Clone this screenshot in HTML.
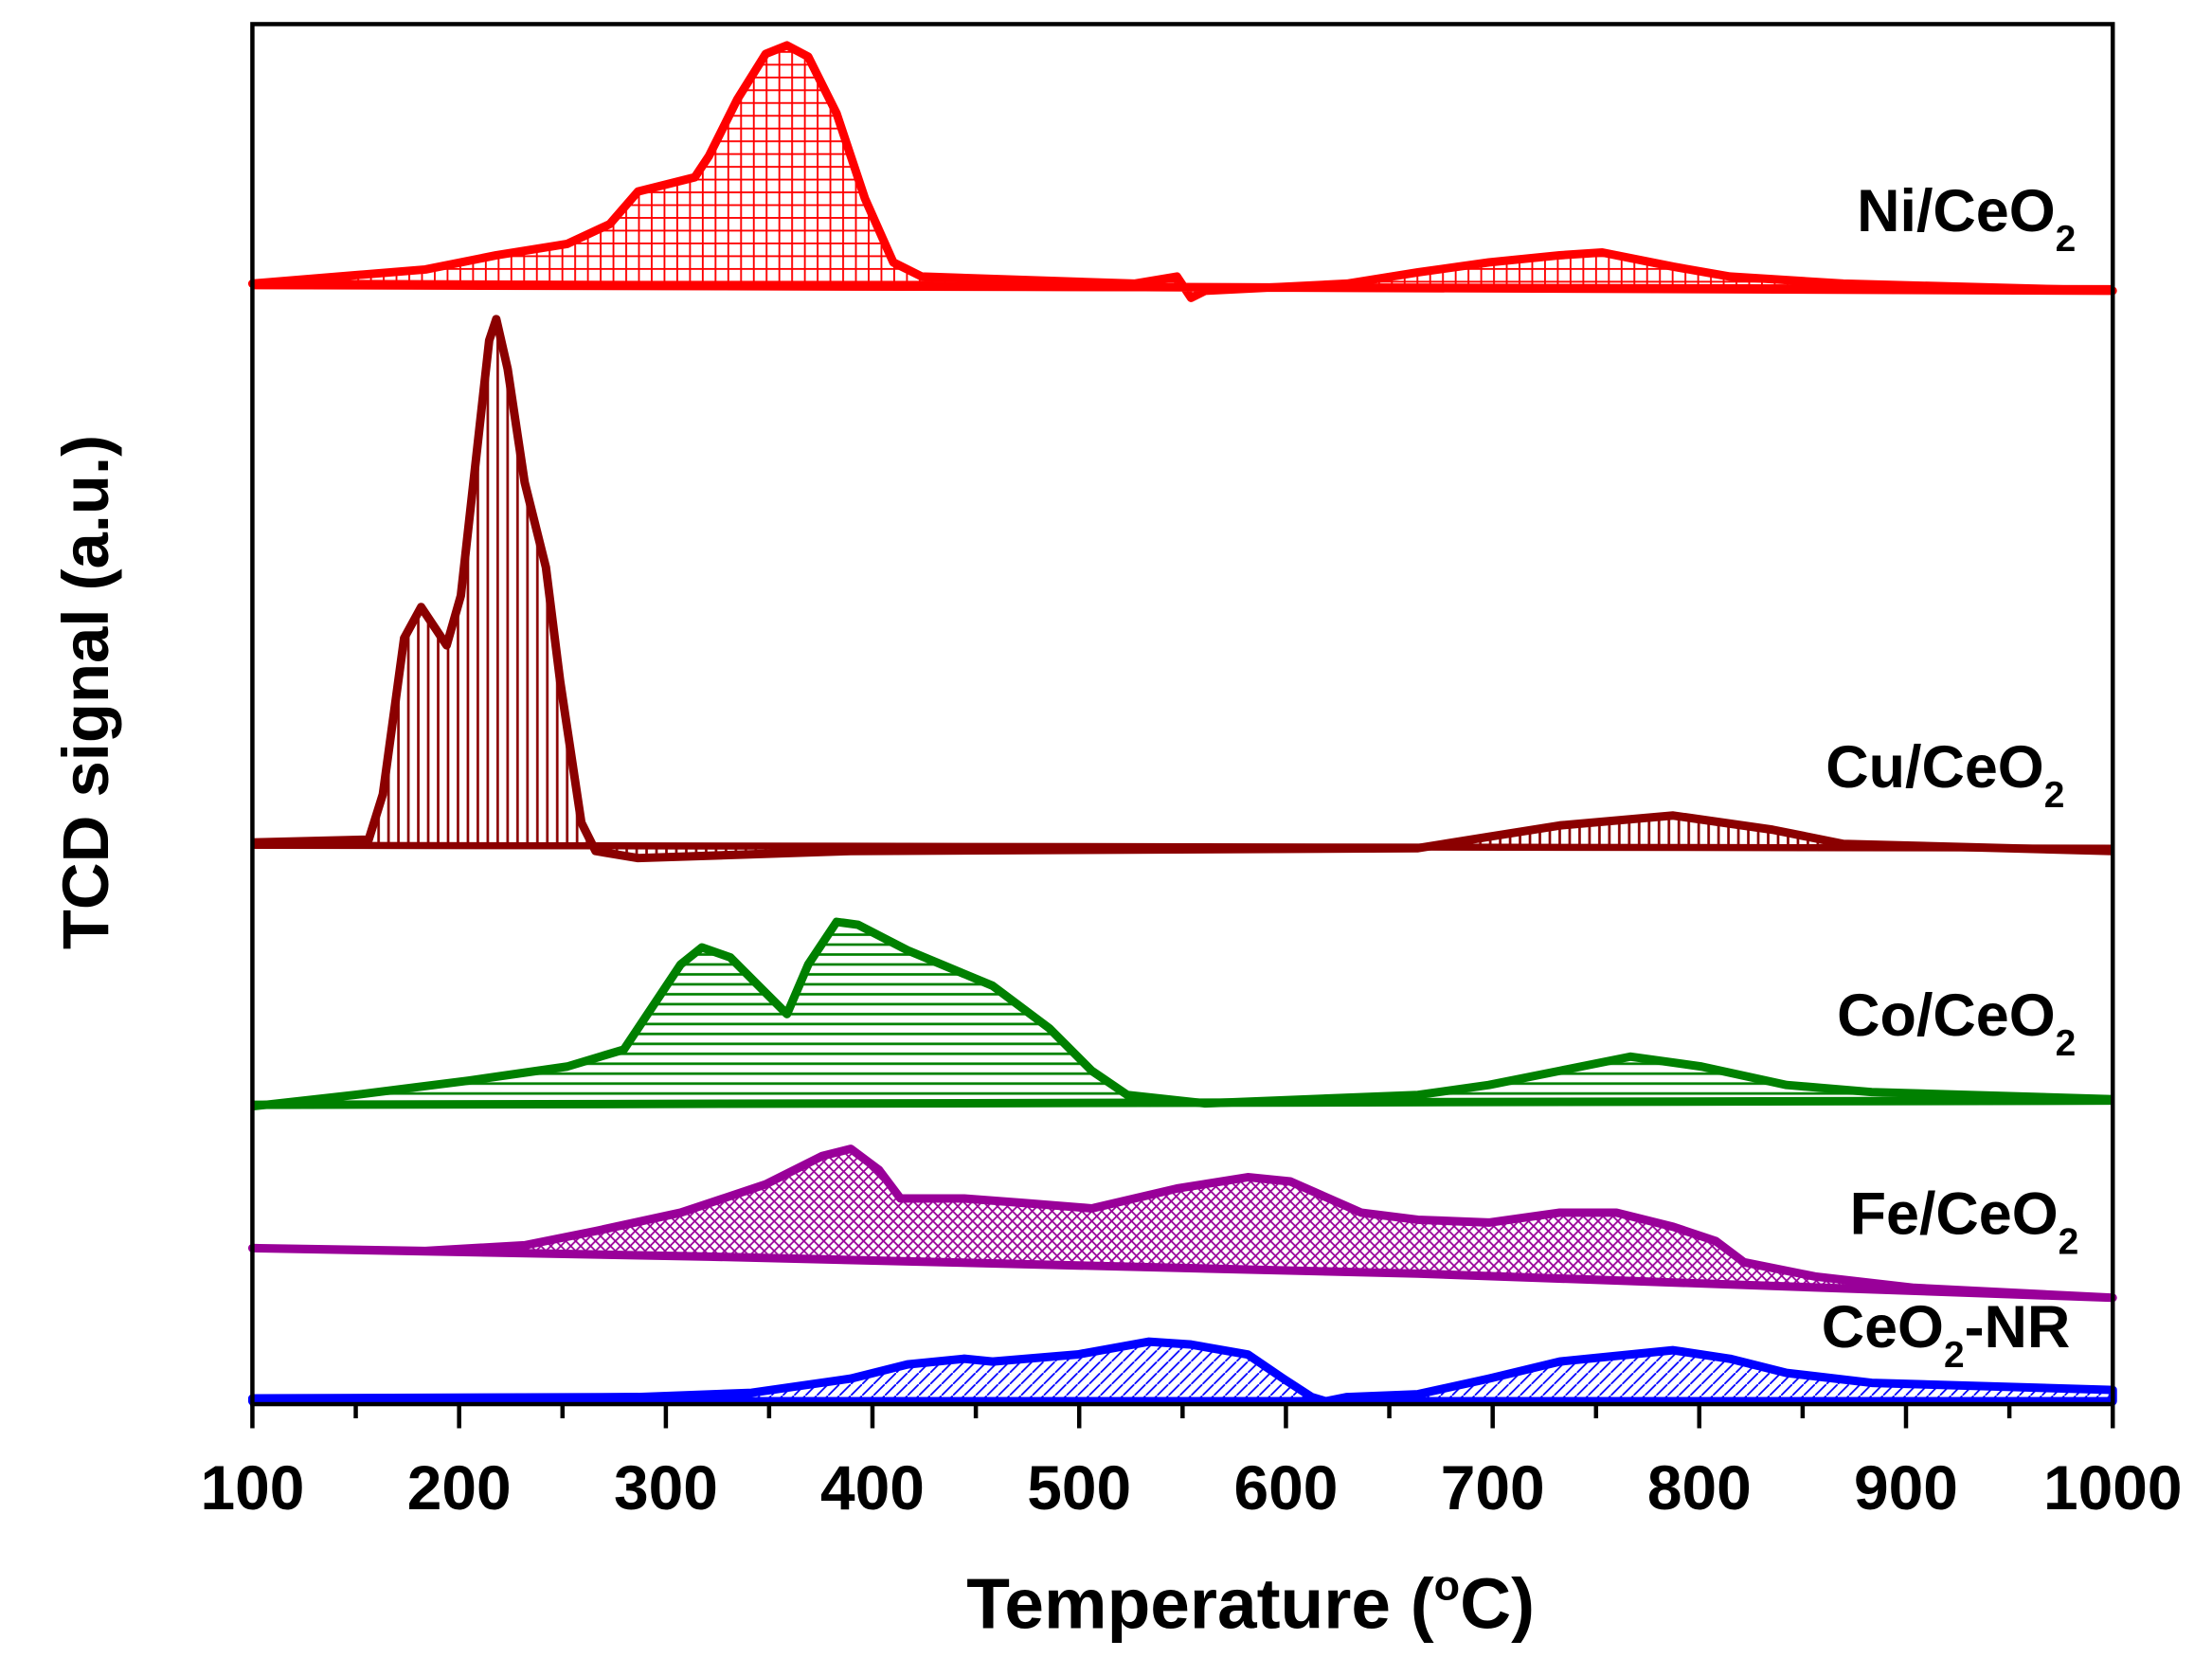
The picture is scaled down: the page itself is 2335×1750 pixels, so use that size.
<!DOCTYPE html>
<html><head><meta charset="utf-8"><style>
html,body{margin:0;padding:0;background:#fff;}
svg{display:block;}
text{font-family:"Liberation Sans",Arial,sans-serif;font-weight:bold;fill:#000;}
</style></head><body>
<svg width="2335" height="1750" viewBox="0 0 1560 1169" preserveAspectRatio="none" xmlns="http://www.w3.org/2000/svg">
<defs>
<pattern id="grid" width="9" height="9" patternUnits="userSpaceOnUse"><path d="M0 0H9M0 0V9" stroke="#ff0000" stroke-width="2.5" fill="none"/></pattern>
<pattern id="vert" width="7" height="7" patternUnits="userSpaceOnUse"><path d="M1 0V7" stroke="#8b0000" stroke-width="1.8"/></pattern>
<pattern id="hor" width="7" height="7" patternUnits="userSpaceOnUse"><path d="M0 1H7" stroke="#008000" stroke-width="1.8"/></pattern>
<pattern id="cross" width="7" height="7" patternUnits="userSpaceOnUse"><path d="M0 0L7 7M7 0L0 7" stroke="#990099" stroke-width="1.2"/></pattern>
<pattern id="diag" width="8" height="8" patternUnits="userSpaceOnUse"><path d="M0 8L8 0" stroke="#0000ff" stroke-width="1.2"/></pattern>
</defs>
<path d="M178,200 L300,190 L350,180 L400,172 L430,158 L450,135 L470,130 L490,125 L500,110 L520,70 L540,38 L555,32 L570,40 L590,80 L610,140 L630,185 L650,195 L800,200 L830,195 L840,210 L850,205 L950,200 L1000,192 L1050,185 L1100,180 L1130,178 L1180,188 L1220,195 L1300,200 L1490,205 Z" fill="url(#grid)" stroke="#ff0000" stroke-width="6" stroke-linejoin="round"/>
<line x1="178" y1="201" x2="1490" y2="204" stroke="#ff0000" stroke-width="6"/>
<path d="M178,594 L260,592 L270,560 L285,450 L297,428 L305,440 L315,455 L325,420 L335,330 L345,240 L350,225 L358,260 L370,340 L385,400 L395,480 L410,580 L420,600 L450,605 L600,600 L1000,598 L1050,590 L1100,582 L1180,575 L1250,585 L1300,595 L1490,600" fill="url(#vert)" stroke="#8b0000" stroke-width="6" stroke-linejoin="round"/>
<line x1="178" y1="596" x2="1490" y2="598" stroke="#8b0000" stroke-width="5"/>
<path d="M178,780 L250,772 L330,762 L400,752 L440,740 L460,710 L480,680 L495,668 L515,675 L540,700 L555,715 L570,680 L590,650 L605,652 L640,670 L700,695 L740,725 L770,755 L795,772 L850,778 L1000,772 L1050,765 L1100,755 L1150,745 L1200,752 L1260,765 L1320,770 L1490,775" fill="url(#hor)" stroke="#008000" stroke-width="6" stroke-linejoin="round"/>
<line x1="178" y1="779" x2="1490" y2="776" stroke="#008000" stroke-width="6"/>
<path d="M178,880 L300,882 L370,878 L420,868 L480,855 L540,835 L580,815 L600,810 L620,825 L635,845 L680,845 L720,848 L770,852 L830,838 L880,830 L910,833 L960,855 L1000,860 L1050,862 L1100,855 L1140,855 L1180,865 L1210,875 L1230,890 L1280,900 L1350,908 L1490,915 L1000,898 L500,886 Z" fill="url(#cross)" stroke="#990099" stroke-width="6" stroke-linejoin="round"/>
<path d="M178,986 L450,985 L530,982 L600,972 L640,962 L680,958 L700,960 L760,955 L810,946 L840,948 L880,955 L905,972 L925,985 L935,988 L950,985 L1000,983 L1050,972 L1100,960 L1150,955 L1180,952 L1220,958 L1260,968 L1320,975 L1490,980 L1490,988 L178,988 Z" fill="url(#diag)" stroke="#0000ff" stroke-width="6" stroke-linejoin="round"/>
<rect x="178" y="17" width="1312" height="973" fill="none" stroke="#000" stroke-width="3"/>
<g stroke="#000" stroke-width="3">
<path d="M178,990V1007M323.8,990V1007M469.6,990V1007M615.3,990V1007M761.1,990V1007M906.9,990V1007M1052.7,990V1007M1198.4,990V1007M1344.2,990V1007M1490,990V1007"/>
<path d="M250.9,990V1000M396.7,990V1000M542.4,990V1000M688.2,990V1000M834,990V1000M979.8,990V1000M1125.6,990V1000M1271.3,990V1000M1417.1,990V1000"/>
</g>
<g font-size="44" text-anchor="middle">
<text x="178" y="1064">100</text><text x="323.8" y="1064">200</text><text x="469.6" y="1064">300</text><text x="615.3" y="1064">400</text><text x="761.1" y="1064">500</text><text x="906.9" y="1064">600</text><text x="1052.7" y="1064">700</text><text x="1198.4" y="1064">800</text><text x="1344.2" y="1064">900</text><text x="1490" y="1064">1000</text>
</g>
<text x="882" y="1148" font-size="50" text-anchor="middle">Temperature (<tspan font-size="30" dy="-20">o</tspan><tspan dy="20">C)</tspan></text>
<text transform="translate(76,488) rotate(-90)" font-size="46" text-anchor="middle">TCD signal (a.u.)</text>
<g font-size="42" text-anchor="end">
<text x="1464" y="163">Ni/CeO<tspan font-size="26" dy="14">2</tspan></text>
<text x="1456" y="555">Cu/CeO<tspan font-size="26" dy="14">2</tspan></text>
<text x="1464" y="730">Co/CeO<tspan font-size="26" dy="14">2</tspan></text>
<text x="1466" y="870">Fe/CeO<tspan font-size="26" dy="14">2</tspan></text>
<text x="1460" y="950">CeO<tspan font-size="26" dy="14">2</tspan><tspan dy="-14">-NR</tspan></text>
</g>
</svg>
</body></html>
